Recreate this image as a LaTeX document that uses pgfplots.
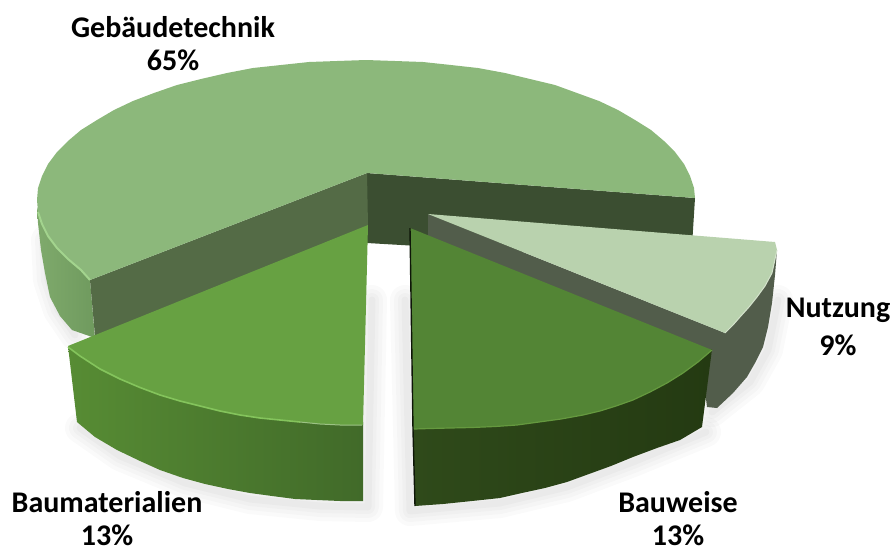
\documentclass[border=0pt]{standalone}
\usepackage{pgfplots}
\usepackage{fontspec}
\setmainfont{Carlito}
\pgfplotsset{compat=1.18}
\definecolor{gebtop}{HTML}{8CB87B}
\definecolor{gebedge}{HTML}{A3D48E}
\definecolor{gebwallL}{HTML}{7FAA6C}
\definecolor{gebwallR}{HTML}{6F9A5E}
\definecolor{gebcut}{HTML}{546B46}
\definecolor{gebdark}{HTML}{3B4E31}
\definecolor{baumtop}{HTML}{67A142}
\definecolor{baumedge}{HTML}{84C45C}
\definecolor{baumwallL}{HTML}{578C34}
\definecolor{baumwallM}{HTML}{47762B}
\definecolor{baumwallR}{HTML}{416A29}
\definecolor{bautop}{HTML}{538535}
\definecolor{bauedge}{HTML}{65993F}
\definecolor{bauwallL}{HTML}{2F4A1A}
\definecolor{bauwallR}{HTML}{243A12}
\definecolor{nutztop}{HTML}{B9D2AE}
\definecolor{nutzedge}{HTML}{D3E2CB}
\definecolor{nutzwall}{HTML}{525D4B}
\newcommand{\soft}[1]{%
  \addplot[black,opacity=.018,line width=30pt,line cap=round,line join=round] coordinates {#1};
  \addplot[black,opacity=.018,line width=22pt,line cap=round,line join=round] coordinates {#1};
  \addplot[black,opacity=.02,line width=14pt,line cap=round,line join=round] coordinates {#1};
  \addplot[black,opacity=.025,line width=7pt,line cap=round,line join=round] coordinates {#1};
}
\newcommand{\lab}[3]{\node[font=\bfseries\fontsize{30}{30}\selectfont,anchor=center,inner sep=0pt] at (axis cs:#1,#2) {#3};}
\begin{document}
\begin{tikzpicture}
\useasboundingbox (0,0) rectangle (894pt,552pt);
\begin{axis}[
  at={(0,0)}, anchor=south west,
  hide axis, scale only axis, width=894pt, height=552pt,
  xmin=0, xmax=894, ymin=0, ymax=552, y dir=reverse,
  clip=true,
  every axis plot/.append style={no markers},
]
% soft shadows
\soft{(46,240) (48,280) (58,310) (75,335)}
\soft{(80,428) (120,456) (185,483) (250,499) (320,506) (368,507) (372,300)}
\soft{(405,300) (410,511) (500,503) (567,487) (633,462) (706,432)}
\soft{(712,412) (750,382) (768,350) (778,300)}
% Gebaeudetechnik: dark cut wall, outer wall, cut wall, top
\addplot[fill=gebdark,draw=none] coordinates {(367,173) (695,198) (691,262) (367,243)} --cycle;
\addplot[left color=gebwallL,right color=gebwallR,draw=none] coordinates {(90,280) (81,270) (68,259) (57,248) (48,236) (42,224) (37,207) (38,223) (41,250) (45,273) (50,297) (60,316) (72,330) (95,338)} --cycle;
\addplot[fill=gebcut,draw=none] coordinates {(367,173) (90,280) (95,336) (368,226)} --cycle;
\addplot[fill=gebtop,draw=none] coordinates {(367,173) (90,280) (81,270) (68,259) (57,248) (48,236) (42,224) (38,212) (37,200) (38,188) (42,176) (48,164) (57,152) (68,141) (81,130) (97,120) (114,110) (133,101) (154,93) (177,85) (201,79) (227,73) (253,68) (281,65) (309,62) (337,61) (366,60) (395,61) (423,62) (451,65) (478,68) (505,73) (530,79) (555,85) (577,93) (599,101) (618,110) (635,120) (651,130) (664,141) (675,152) (684,164) (690,176) (694,188) (695,198)} --cycle;
\addplot[gebedge,line width=2pt] coordinates {(90,280) (81,270) (68,259) (57,248) (48,236) (42,224) (38,212)};
% Nutzung
\addplot[fill=nutzwall,draw=none] coordinates {(725,333) (733,325) (740,317) (749,307) (757,297) (765,286) (772,273) (777,250) (775,275) (772,303) (768,327) (763,347) (755,363) (747,377) (733,393) (717,408) (707,407) (700,350)} --cycle;
\addplot[fill=nutzwall,draw=none] coordinates {(428,214) (725,333) (708,360) (428,245)} --cycle;
\addplot[fill=nutztop,draw=none] coordinates {(428,214) (775,242) (777,250) (772,273) (765,286) (757,297) (749,307) (740,317) (733,325) (725,333)} --cycle;
\addplot[nutzedge,line width=1pt] coordinates {(777,250) (772,273) (765,286) (757,297) (749,307) (740,317) (733,325) (725,333)};
% Bauweise
\addplot[left color=bauwallL,right color=bauwallR,draw=none] coordinates {(413,425) (450,425) (517,422) (583,412) (633,397) (683,370) (712,349) (702,427) (680,440) (657,448) (633,457) (611,466) (589,474) (567,482) (545,488) (522,493) (500,498) (472,501) (443,504) (415,506)} --cycle;
\addplot[fill=bautop,draw=none] coordinates {(410,228) (712,350) (698,362) (683,373) (667,383) (650,392) (633,400) (616,406) (600,411) (583,415) (561,419) (539,422) (517,425) (495,426.5) (472,427.5) (450,428) (430,428.5) (413,429)} --cycle;
\addplot[bauedge,line width=1.2pt] coordinates {(712,350) (698,362) (683,373) (667,383) (650,392) (633,400) (616,406) (600,411) (583,415) (561,419) (539,422) (517,425) (495,426.5) (472,427.5) (450,428) (430,428.5) (414,429)};
\addplot[black!70!bauwallL,line width=1.4pt] coordinates {(410,228) (413,430) (415,506)};
% Baumaterialien
\addplot[left color=baumwallL,middle color=baumwallM,right color=baumwallR,draw=none] coordinates {(68,346) (80,353) (120,376) (160,392) (200,403) (240,412) (280,417) (320,421) (363,422) (363,501) (340,501) (317,500) (295,499) (272,496) (250,493) (228,489) (205,484) (183,478) (160,470) (140,461) (117,450) (95,437) (77,422)} --cycle;
\addplot[fill=baumtop,draw=none] coordinates {(368,225) (363,425) (340,425) (320,424) (300,422) (280,420) (260,418) (240,415) (220,411) (200,406) (180,401) (160,395) (140,387.5) (120,379) (100,369) (80,356) (68,346)} --cycle;
\addplot[baumedge,line width=1.6pt] coordinates {(68,347) (80,356) (100,369) (120,379) (140,387.5) (160,395) (180,401) (200,406) (220,411) (240,415) (260,418) (280,420) (300,422)};
\addplot[white!35!baumtop,line width=1pt] coordinates {(300,422) (320,424) (340,425) (362,425)};
% labels
\lab{173}{27}{Gebäudetechnik}
\lab{173}{60}{65\%}
\lab{838}{310}{Nutzung}
\lab{838}{345}{9\%}
\lab{107}{502}{Baumaterialien}
\lab{107}{535}{13\%}
\lab{678}{502}{Bauweise}
\lab{678}{535}{13\%}
\end{axis}
\end{tikzpicture}
\end{document}
